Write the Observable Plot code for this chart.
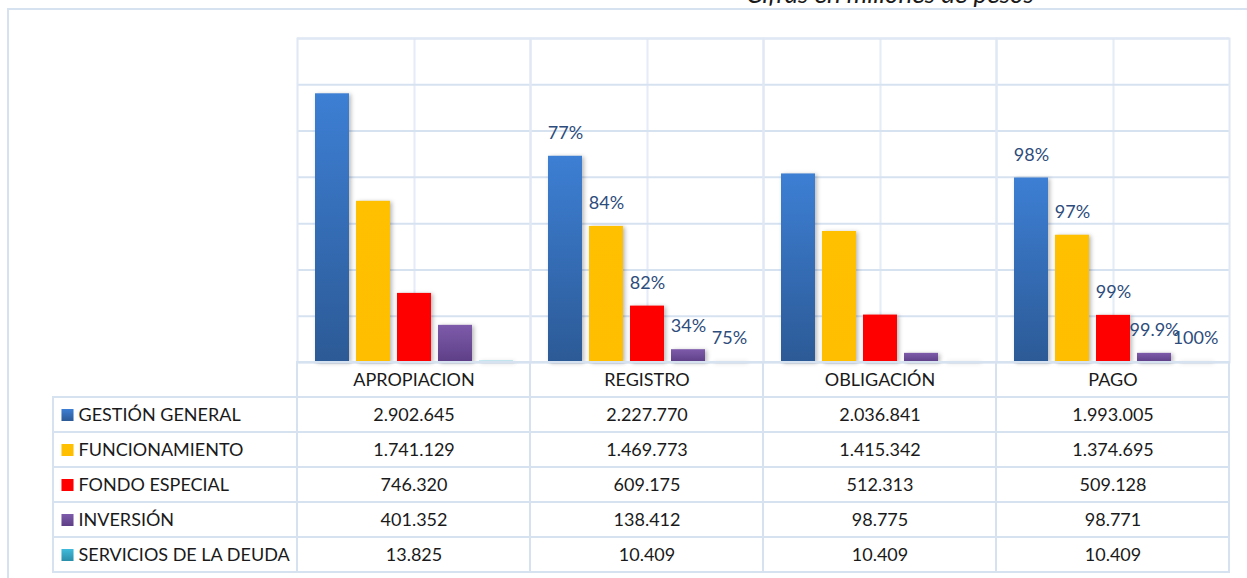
<!DOCTYPE html>
<html>
<head>
<meta charset="utf-8">
<script src="https://cdn.jsdelivr.net/npm/d3@7"></script>
<script src="https://cdn.jsdelivr.net/npm/@observablehq/plot@0.6"></script>
<style>
  body { margin: 0; background: #fff; font-family: Lato, "Open Sans", sans-serif; }
  #wrap { position: relative; width: 1247px; height: 578px; overflow: hidden; background: #fff; }
  #frame { position: absolute; left: 7px; top: 8px; width: 1400px; height: 800px;
           border-left: 2px solid #d7e2f1; border-top: 2px solid #d7e2f1; }
  #title { position: absolute; top: -20px; left: 690px; width: 400px; text-align: center;
           font: italic 26px/26px Lato, sans-serif; color: #1a1a1a; white-space: nowrap; }
  #chart { position: absolute; left: 0; top: 0; }
  #table { position: absolute; left: 0; top: 361px; }
  svg { overflow: visible; }
</style>
</head>
<body>
<svg width="0" height="0" style="position:absolute">
  <defs>
    <linearGradient id="gBlue" x1="0" y1="0" x2="0" y2="1">
      <stop offset="0" stop-color="#3d7fd4"/><stop offset="1" stop-color="#2c5a96"/>
    </linearGradient>
    <linearGradient id="gYellow" x1="0" y1="0" x2="0" y2="1">
      <stop offset="0" stop-color="#ffc000"/><stop offset="1" stop-color="#ffbf00"/>
    </linearGradient>
    <linearGradient id="gRed" x1="0" y1="0" x2="0" y2="1">
      <stop offset="0" stop-color="#ff0000"/><stop offset="1" stop-color="#fe0000"/>
    </linearGradient>
    <linearGradient id="gPurple" x1="0" y1="0" x2="0" y2="1">
      <stop offset="0" stop-color="#7e5bab"/><stop offset="1" stop-color="#5d3f86"/>
    </linearGradient>
    <linearGradient id="gCyan" x1="0" y1="0" x2="0" y2="1">
      <stop offset="0" stop-color="#40bbdb"/><stop offset="1" stop-color="#2a8ea9"/>
    </linearGradient>
  </defs>
</svg>
<div id="wrap">
  <div id="frame"></div>
  <div id="title">Cifras en millones de pesos</div>
  <div id="chart"></div>
  <div id="table"></div>
</div>
<script>
// ---- data ----
const categories = ["APROPIACION", "REGISTRO", "OBLIGACIÓN", "PAGO"];
const series = ["GESTIÓN GENERAL", "FUNCIONAMIENTO", "FONDO ESPECIAL", "INVERSIÓN", "SERVICIOS DE LA DEUDA"];
const gestionGeneral = [2902645, 2227770, 2036841, 1993005];
const funcionamiento = [1741129, 1469773, 1415342, 1374695];
const fondoEspecial = [746320, 609175, 512313, 509128];
const inversion = [401352, 138412, 98775, 98771];
const serviciosDeuda = [13825, 10409, 10409, 10409];
const registroLabels = ["77%", "84%", "82%", "34%", "75%"];
const pagoLabels = ["98%", "97%", "99%", "99.9%", "100%"];
const yTicks = [0, 500000, 1000000, 1500000, 2000000, 2500000, 3000000, 3500000];

// ---- derived tables ----
const seriesValues = [gestionGeneral, funcionamiento, fondoEspecial, inversion, serviciosDeuda];
const barData = [];
series.forEach((s, si) => categories.forEach((c, ci) => {
  barData.push({category: c, series: s, value: seriesValues[si][ci], si, ci});
}));
const labelData = [];
[["REGISTRO", registroLabels], ["PAGO", pagoLabels]].forEach(([c, labels]) => {
  const ci = categories.indexOf(c);
  series.forEach((s, si) => labelData.push({category: c, series: s, value: seriesValues[si][ci], label: labels[si]}));
});

const gradIds = ["gBlue", "gYellow", "gRed", "gPurple", "gCyan"];
const colorScale = {domain: series, range: gradIds.map(id => `url(#${id})`)};
const gridColor = "#d7e2f1";
const font = "Lato, 'Open Sans', sans-serif";

// ---- chart ----
const chart = Plot.plot({
  width: 1247, height: 363,
  marginLeft: 297, marginRight: 18, marginTop: 38, marginBottom: 1,
  style: {background: "transparent", fontFamily: font, overflow: "visible"},
  fx: {domain: categories, padding: 0, axis: null},
  x: {domain: series, paddingInner: 0.18, paddingOuter: 0.39, axis: null},
  y: {domain: [0, 3500000], axis: null},
  color: colorScale,
  marks: [
    Plot.ruleX([series[2]], {x: d => d, stroke: "#e4ecf7", strokeWidth: 2}),
    Plot.ruleY(yTicks, {stroke: gridColor, strokeWidth: 2}),
    Plot.frame({stroke: "#dfe8f4", strokeWidth: 2}),
    Plot.barY(barData, {fx: "category", x: "series", y: "value", fill: "series"}),
    Plot.text(labelData, {fx: "category", x: "series", y: "value", text: "label", dy: -23,
      fontSize: 18, fill: "#2d4c7c", fontFamily: font})
  ]
});
d3.select(chart).selectAll("g[aria-label='bar'] rect")
  .style("filter", "drop-shadow(2px 1px 2px rgba(0,0,0,0.28))");
document.getElementById("chart").appendChild(chart);

// ---- data table ----
const L = 244 / 233; // width of label column in data-column units
const fmt = d3.formatLocale({decimal: ",", thousands: ".", grouping: [3], currency: ["$", ""]}).format(",d");
const headerCells = categories.map((c, ci) => ({c, ci}));
const labelCells = series.map((s, si) => ({s, si}));
const table = Plot.plot({
  width: 1247, height: 217,
  marginLeft: 53, marginRight: 18, marginTop: 0, marginBottom: 0,
  style: {background: "transparent", fontFamily: font, overflow: "visible"},
  x: {domain: [-L, 4], axis: null},
  y: {domain: [0, 6], range: [1, 211], axis: null},
  color: colorScale,
  marks: [
    Plot.rect(headerCells, {x1: d => d.ci, x2: d => d.ci + 1, y1: 0, y2: 1, stroke: gridColor, strokeWidth: 2, fill: "none"}),
    Plot.rect(labelCells, {x1: -L, x2: 0, y1: d => d.si + 1, y2: d => d.si + 2, stroke: gridColor, strokeWidth: 2, fill: "none"}),
    Plot.rect(barData, {x1: d => d.ci, x2: d => d.ci + 1, y1: d => d.si + 1, y2: d => d.si + 2, stroke: gridColor, strokeWidth: 2, fill: "none"}),
    Plot.text(headerCells, {x: d => d.ci + 0.5, y: 0.5, text: "c", fontSize: 18, fill: "#1a1a1a", fontFamily: font}),
    Plot.dot(labelCells, {x: -L, y: d => d.si + 1.5, dx: 14, symbol: "square", r: 6.8, fill: "s", stroke: "none"}),
    Plot.text(labelCells, {x: -L, y: d => d.si + 1.5, dx: 25, text: "s", textAnchor: "start", fontSize: 18, fill: "#1a1a1a", fontFamily: font}),
    Plot.text(barData, {x: d => d.ci + 0.5, y: d => d.si + 1.5, text: d => fmt(d.value), fontSize: 18, fill: "#1a1a1a", fontFamily: font})
  ]
});
document.getElementById("table").appendChild(table);
</script>
</body>
</html>
